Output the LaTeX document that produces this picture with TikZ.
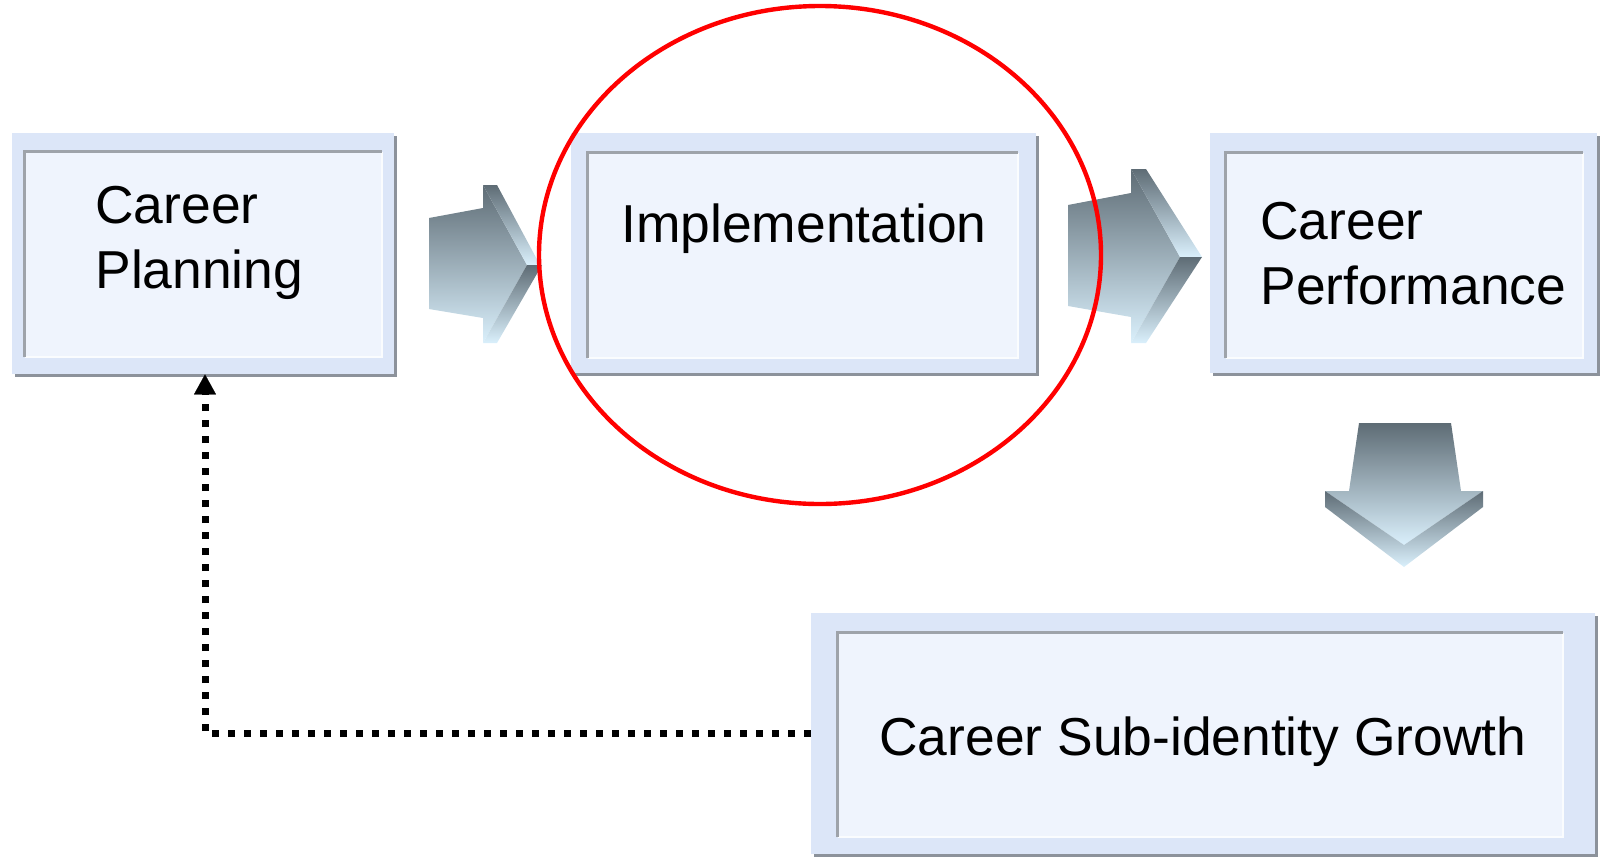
\documentclass[tikz,border=0pt]{standalone}
\usepackage{fontspec}
\setmainfont{Liberation Sans}
\usetikzlibrary{arrows.meta,fit,shapes.geometric,shadows}
\definecolor{framec}{HTML}{DCE6F8}
\definecolor{panelc}{HTML}{EFF4FD}
\definecolor{shadowc}{HTML}{8C929B}
\definecolor{bevelc}{HTML}{9EA3AA}
\definecolor{ardark}{HTML}{5E6C75}
\definecolor{arlight}{HTML}{DAF0FC}
\begin{document}
\begin{tikzpicture}[x=0.5pt,y=-0.5pt,
  framebox/.style={fill=framec, draw=none, inner sep=0pt,
    drop shadow={shadow xshift=1.5pt, shadow yshift=-1.5pt, fill=shadowc, opacity=1}},
  panelbox/.style={fill=panelc, draw=none, inner sep=0pt},
  bevel/.style={draw=bevelc, line width=1.3pt},
  hilite/.style={draw=white!70!panelc, line width=1pt},
  lbl/.style={font=\fontsize{26.7}{32.3}\selectfont, align=left, inner sep=0pt, text=black},
  arrface/.style={top color=ardark, bottom color=arlight, draw=none},
  arrbevel/.style={top color=ardark, bottom color=arlight, draw=none},
  dotline/.style={line width=3.5pt, dash pattern=on 3.5pt off 4.5pt,
    -{Triangle[width=11pt,length=10pt,line width=0.1pt]}}
]
\useasboundingbox (0,0) rectangle (1604,857);

% ---------- boxes ----------
\node[framebox, fit={(12,133)(394,374)}] (cp) {};
\node[panelbox, fit={(25,152)(382,357)}] (cpin) {};
\draw[hilite] (cpin.north east) |- (cpin.south west);
\draw[bevel] (cpin.south west) |- (cpin.north east);

\node[framebox, fit={(571,133)(1036,373)}] (impl) {};
\node[panelbox, fit={(588,153)(1018,358)}] (implin) {};
\draw[hilite] (implin.north east) |- (implin.south west);
\draw[bevel] (implin.south west) |- (implin.north east);

\node[framebox, fit={(1210,133)(1597,373)}] (perf) {};
\node[panelbox, fit={(1226,153)(1583,358)}] (perfin) {};
\draw[hilite] (perfin.north east) |- (perfin.south west);
\draw[bevel] (perfin.south west) |- (perfin.north east);

\node[framebox, fit={(811,613)(1595,854)}] (grow) {};
\node[panelbox, fit={(838,633)(1563,837)}] (growin) {};
\draw[hilite] (growin.north east) |- (growin.south west);
\draw[bevel] (growin.south west) |- (growin.north east);

% ---------- labels ----------
\node[lbl, anchor=north west] (cptxt) at (95,186) {Career\\Planning};
\node[lbl, anchor=base west] (impltxt) at (621,242) {Implementation};
\node[lbl, anchor=north west] (perftxt) at (1260,202) {Career\\Performance};
\node[lbl, anchor=base west] (growtxt) at (879,755) {Career Sub-identity Growth};

% ---------- 3D arrows ----------
% arrow 1
\path[arrface] (429,218) -- (483,208) -- (483,185) -- (527,265) -- (483,343) -- (483,318) -- (429,309) -- cycle;
\path[arrbevel] (483,185) -- (497,185) -- (540,265) -- (527,265) -- cycle;
\path[arrbevel] (527,265) -- (542,265) -- (497,343) -- (483,343) -- cycle;
% arrow 2
\path[arrface] (1068,205) -- (1131,193) -- (1131,169) -- (1180,257) -- (1131,343) -- (1131,317) -- (1068,306) -- cycle;
\path[arrbevel] (1131,169) -- (1146,169) -- (1202,257) -- (1180,257) -- cycle;
\path[arrbevel] (1180,257) -- (1202,257) -- (1146,343) -- (1131,343) -- cycle;
% arrow 3 (down)
\path[arrface] (1359,423) -- (1451,423) -- (1461,491) -- (1483,491) -- (1404,545) -- (1325,491) -- (1349,491) -- cycle;
\path[arrbevel] (1325,491) -- (1404,545) -- (1404,567) -- (1325,507) -- cycle;
\path[arrbevel] (1483,491) -- (1483,507) -- (1404,567) -- (1404,545) -- cycle;

% ---------- highlight ellipse ----------
\node[ellipse, draw=red, line width=2.2pt, minimum width=281pt, minimum height=249pt, inner sep=0pt] (focus) at (820,255) {};

% ---------- feedback connector ----------
\draw[dotline] (grow.west) -| ([xshift=1pt]cp.south);
\end{tikzpicture}
\end{document}
